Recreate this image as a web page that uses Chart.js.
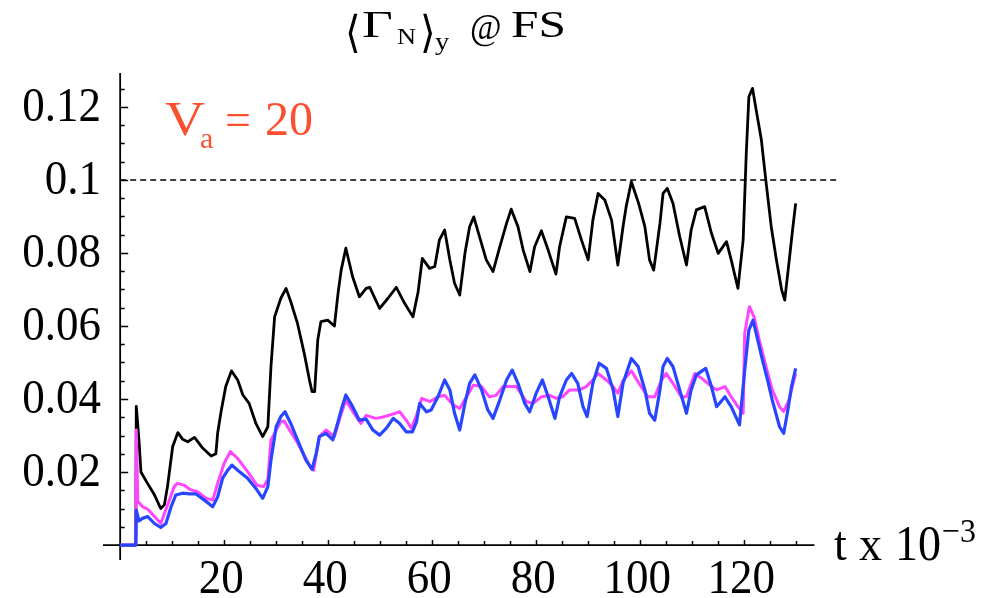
<!DOCTYPE html>
<html>
<head>
<meta charset="utf-8">
<script src="https://cdn.jsdelivr.net/npm/chart.js@4/dist/chart.umd.min.js"></script>
<style>
  html, body { margin: 0; padding: 0; background: #ffffff; }
  #wrap { width: 1007px; height: 598px; position: relative; }
  canvas { display: block; }
</style>
</head>
<body>
<div id="wrap"><canvas id="c" width="1007" height="598"></canvas></div>
<script>
// ---- data (t in units of 10^3) ----
const blackT = [0, 3.0, 3.1, 3.6, 4.0, 5.0, 6.5, 7.8, 8.5, 9.1,
  10.1, 11.1, 12.0, 13.0, 14.3, 15.9, 17.5, 18.4, 18.75, 19.4,
  20.3, 21.4, 22.6, 23.6, 24.8, 26.1, 27.4, 28.4, 29.0, 29.7,
  30.9, 31.9, 32.8, 34.1, 35.4, 36.4, 36.9, 37.4, 38.0, 38.6,
  39.9, 41.2, 41.9, 42.5, 43.4, 44.7, 46.0, 47.3, 48.0, 49.9,
  51.5, 53.1, 54.7, 56.3, 57.3, 58.1, 59.5, 60.5, 61.4, 62.4,
  63.4, 64.3, 65.3, 66.3, 67.2, 68.0, 69.1, 70.4, 71.7, 73.0,
  74.3, 75.2, 76.5, 77.5, 78.8, 79.7, 81.0, 82.3, 83.8, 84.5,
  85.8, 87.4, 88.7, 90.0, 90.9, 91.9, 93.2, 94.5, 95.7, 96.7,
  97.3, 98.3, 99.7, 100.9, 101.8, 102.6, 103.8, 104.4, 105.2, 106.3,
  107.6, 108.9, 109.8, 110.8, 112.4, 113.7, 115.0, 116.6, 117.5, 118.8,
  119.8, 120.4, 120.9, 121.6, 122.3, 123.3, 124.3, 125.2, 126.2, 127.2,
  127.8, 128.6, 129.3, 129.9];
const blackV = [0, 0, 0.038, 0.029, 0.020, 0.0175, 0.014, 0.010, 0.011, 0.016,
  0.027, 0.0308, 0.029, 0.0283, 0.0295, 0.0265, 0.0244, 0.025, 0.0307, 0.0365,
  0.0434, 0.0477, 0.0452, 0.0411, 0.0388, 0.0333, 0.0297, 0.0324, 0.0489, 0.0625,
  0.0676, 0.0703, 0.0667, 0.0607, 0.0525, 0.0452, 0.0420, 0.042, 0.0562, 0.0612,
  0.0616, 0.0600, 0.0690, 0.0753, 0.0813, 0.0735, 0.0680, 0.0703, 0.0706, 0.0648,
  0.0676, 0.0706, 0.0662, 0.0625, 0.0694, 0.0785, 0.0758, 0.0763, 0.0836, 0.0863,
  0.0781, 0.0717, 0.0685, 0.0799, 0.0872, 0.0899, 0.0845, 0.0781, 0.0749, 0.0817,
  0.0881, 0.0920, 0.0872, 0.0808, 0.0749, 0.0817, 0.0861, 0.0808, 0.0742, 0.0817,
  0.0899, 0.0895, 0.0836, 0.0781, 0.0890, 0.0963, 0.0945, 0.0890, 0.0767, 0.0872,
  0.0927, 0.0995, 0.0936, 0.0872, 0.0781, 0.0753, 0.0881, 0.0963, 0.0977, 0.0936,
  0.0845, 0.0767, 0.0863, 0.0918, 0.0927, 0.0854, 0.0799, 0.0831, 0.0781, 0.0703,
  0.0836, 0.1073, 0.1228, 0.1251, 0.1192, 0.1110, 0.0982, 0.0872, 0.0781, 0.0699,
  0.0671, 0.0772, 0.0863, 0.0936];

const magentaT = [0, 3.0, 3.1, 3.4, 4.3, 5.3, 6.6, 7.8, 9.0, 10.4,
  11.0, 12.3, 13.6, 14.9, 16.5, 17.8, 18.75, 20.0, 21.2, 22.6,
  24.5, 26.3, 27.6, 28.4, 29.0, 30.9, 31.5, 34.1, 36.7, 37.2,
  38.3, 39.6, 41.2, 42.3, 43.4, 45.0, 46.3, 47.3, 49.2, 50.4,
  51.8, 53.75, 55.0, 56.0, 57.0, 58.0, 59.6, 61.1, 62.4, 64.0,
  65.3, 66.6, 67.9, 69.5, 71.0, 72.3, 73.6, 74.9, 76.2, 78.1,
  79.4, 81.0, 82.6, 83.9, 85.1, 86.4, 88.3, 89.6, 90.9, 91.9,
  93.5, 94.8, 95.7, 96.7, 98.3, 99.9, 101.5, 102.8, 104.1, 105.0,
  106.3, 107.9, 108.9, 110.5, 111.8, 113.4, 114.7, 116.3, 117.5, 118.8,
  119.8, 120.1, 121.0, 121.9, 122.9, 124.2, 125.4, 126.8, 127.6, 128.6,
  129.9];
const magentaV = [0, 0, 0.0315, 0.012, 0.0105, 0.0098, 0.0078, 0.0059, 0.0105, 0.016,
  0.0169, 0.0164, 0.0151, 0.0146, 0.0128, 0.0123, 0.0169, 0.0224, 0.0256, 0.0237,
  0.0201, 0.0164, 0.016, 0.018, 0.0288, 0.0338, 0.034, 0.028, 0.0211, 0.0205,
  0.0297, 0.0315, 0.0297, 0.035, 0.0397, 0.036, 0.0333, 0.0355, 0.0347, 0.035,
  0.0356, 0.0365, 0.0342, 0.032, 0.0356, 0.0402, 0.0393, 0.0406, 0.041, 0.0384,
  0.0374, 0.0406, 0.0438, 0.0434, 0.0406, 0.041, 0.0434, 0.0434, 0.0434, 0.0393,
  0.0388, 0.0406, 0.041, 0.0402, 0.0406, 0.0425, 0.0425, 0.0434, 0.0452, 0.0470,
  0.0452, 0.0434, 0.0416, 0.045, 0.0477, 0.0440, 0.0406, 0.0406, 0.0452, 0.047,
  0.0443, 0.0406, 0.0406, 0.047, 0.0457, 0.0438, 0.0425, 0.0434, 0.0406, 0.0379,
  0.0361, 0.058, 0.0653, 0.0625, 0.0562, 0.0489, 0.0425, 0.0379, 0.0366, 0.0397,
  0.047];

const blueT = [0, 3.0, 3.1, 3.6, 4.3, 5.3, 6.6, 7.8, 8.8, 9.8,
  10.7, 12.0, 13.3, 14.6, 16.2, 17.8, 18.75, 19.7, 20.7, 21.5,
  22.6, 24.5, 26.1, 27.4, 28.4, 29.0, 30.0, 30.9, 31.7, 32.8,
  34.1, 35.7, 36.9, 37.7, 38.3, 39.6, 40.9, 41.8, 42.6, 43.4,
  44.7, 46.0, 47.3, 48.6, 49.9, 51.2, 52.5, 53.75, 55.0, 56.2,
  57.0, 57.6, 58.9, 59.8, 61.1, 62.4, 63.4, 64.3, 65.3, 66.3,
  67.2, 68.2, 69.5, 70.7, 71.7, 73.0, 74.3, 75.4, 76.5, 77.8,
  78.75, 80.0, 81.2, 82.3, 83.6, 84.5, 85.8, 86.8, 88.0, 89.0,
  89.8, 90.9, 92.1, 93.5, 94.8, 95.7, 96.7, 98.3, 99.6, 100.9,
  101.8, 102.8, 103.8, 104.4, 105.2, 106.3, 107.6, 108.9, 109.8, 110.8,
  112.6, 113.7, 114.7, 116.3, 117.5, 119.1, 120.1, 120.9, 121.7, 122.6,
  123.5, 124.5, 125.4, 126.8, 127.6, 128.4, 129.1, 129.9];
const blueV = [0, 0, 0.0096, 0.0066, 0.0073, 0.0078, 0.0059, 0.0048, 0.0059, 0.0105,
  0.0137, 0.0142, 0.014, 0.014, 0.0123, 0.0105, 0.0132, 0.0183, 0.0205, 0.0219,
  0.0205, 0.0183, 0.0155, 0.0128, 0.016, 0.0233, 0.0324, 0.0352, 0.0365, 0.0333,
  0.0288, 0.0233, 0.0207, 0.0251, 0.0297, 0.0306, 0.0288, 0.0333, 0.0375, 0.0411,
  0.0379, 0.0342, 0.0345, 0.0315, 0.0301, 0.032, 0.0347, 0.0333, 0.031, 0.031,
  0.0338, 0.0388, 0.0365, 0.037, 0.0406, 0.0452, 0.0425, 0.0361, 0.0315, 0.0388,
  0.0443, 0.0466, 0.0425, 0.037, 0.0347, 0.0397, 0.0452, 0.0479, 0.0443, 0.0388,
  0.0365, 0.0416, 0.0452, 0.0406, 0.0347, 0.0406, 0.0452, 0.047, 0.0443, 0.0379,
  0.0352, 0.0443, 0.0498, 0.0484, 0.0425, 0.0352, 0.0443, 0.0511, 0.0489, 0.0425,
  0.0361, 0.0342, 0.0425, 0.0489, 0.0511, 0.0489, 0.0425, 0.0361, 0.0425, 0.0466,
  0.0484, 0.0434, 0.0379, 0.0406, 0.0379, 0.0329, 0.0479, 0.0589, 0.0616, 0.0562,
  0.0507, 0.0452, 0.0397, 0.0324, 0.0306, 0.037, 0.0434, 0.0484];

const refLineT = [0, 138];
const refLineV = [0.1, 0.1];

const xTickValues = [20, 40, 60, 80, 100, 120];
const xTickLabels = ['20', '40', '60', '80', '100', '120'];
const yTickValues = [0.02, 0.04, 0.06, 0.08, 0.1, 0.12];
const yTickLabels = ['0.02', '0.04', '0.06', '0.08', '0.1', '0.12'];

// ---- helpers ----
function zip(ts, vs) { return ts.map((t, i) => ({ x: t, y: vs[i] })); }

const SERIF = '"Liberation Serif", "DejaVu Serif", "Times New Roman", serif';

function stretchedText(ctx, str, x, y, size, sx, sy, align) {
  ctx.save();
  ctx.font = size + 'px ' + SERIF;
  ctx.textAlign = align || 'left';
  ctx.textBaseline = 'alphabetic';
  ctx.translate(x, y);
  ctx.scale(sx, sy);
  ctx.fillText(str, 0, 0);
  ctx.restore();
}

const axesPlugin = {
  id: 'mmaAxes',
  beforeDatasetsDraw(chart) {
    const ctx = chart.ctx;
    const xs = chart.scales.x, ys = chart.scales.y;
    const ca = chart.chartArea;
    const x0 = xs.getPixelForValue(0);
    const y0 = ys.getPixelForValue(0);
    ctx.save();
    ctx.strokeStyle = '#000';
    ctx.lineWidth = 1.8;
    // axes lines
    ctx.beginPath();
    ctx.moveTo(ca.left, y0); ctx.lineTo(xs.getPixelForValue(133.5), y0);
    ctx.moveTo(x0, ca.bottom); ctx.lineTo(x0, ca.top);
    ctx.stroke();
    // x ticks (every 5, pointing up)
    ctx.lineWidth = 1.5;
    ctx.beginPath();
    for (let t = 5; t <= 130; t += 5) {
      const px = Math.round(xs.getPixelForValue(t)) + 0.5;
      const len = (t % 20 === 0) ? 5 : 4;
      ctx.moveTo(px, y0); ctx.lineTo(px, y0 - len);
    }
    // y ticks (every 0.005, pointing right)
    for (let k = 1; k <= 25; k++) {
      const v = k * 0.005;
      const py = Math.round(ys.getPixelForValue(v)) + 0.5;
      const len = (k % 4 === 0) ? 8 : 4.5;
      ctx.moveTo(x0, py); ctx.lineTo(x0 + len, py);
    }
    ctx.stroke();
    ctx.restore();
  },
  afterDraw(chart) {
    const ctx = chart.ctx;
    const xs = chart.scales.x, ys = chart.scales.y;
    ctx.save();
    ctx.fillStyle = '#000';
    // y tick labels
    yTickValues.forEach((v, i) => {
      const py = ys.getPixelForValue(v);
      stretchedText(ctx, yTickLabels[i], 101, py + 14, 45, 1, 1.08, 'right');
    });
    // x tick labels
    xTickValues.forEach((t, i) => {
      const px = xs.getPixelForValue(t);
      stretchedText(ctx, xTickLabels[i], px - 3, 593, 45, 1, 1.08, 'center');
    });
    // axis label t x 10^-3
    stretchedText(ctx, 't', 834, 560, 46, 1, 1.05, 'left');
    stretchedText(ctx, 'x', 859, 560, 46, 1, 1.05, 'left');
    stretchedText(ctx, '10', 895, 560, 46, 1, 1.1, 'left');
    stretchedText(ctx, '\u22123', 942, 542, 32, 1, 1.05, 'left');

    // title <Gamma_N>_y @ FS
    stretchedText(ctx, '\u27E8', 345, 47, 40, 1, 1.1, 'left');
    stretchedText(ctx, '\u0393', 362, 37, 38, 1.4, 1.0, 'left');
    stretchedText(ctx, 'N', 397, 44, 24, 1.1, 1.0, 'left');
    stretchedText(ctx, '\u27E9', 420, 47, 40, 1, 1.1, 'left');
    stretchedText(ctx, 'y', 435, 50, 26, 1.1, 1.0, 'left');
    stretchedText(ctx, '@', 470, 39, 36, 0.95, 1.0, 'left');
    stretchedText(ctx, 'FS', 511, 37, 38, 1.3, 1.0, 'left');

    // annotation V_a = 20
    ctx.fillStyle = '#fb5030';
    stretchedText(ctx, 'V', 165, 135, 48, 1.15, 1.0, 'left');
    stretchedText(ctx, 'a', 200, 148, 30, 1.0, 1.0, 'left');
    stretchedText(ctx, '=', 225, 135, 46, 1.0, 1.0, 'left');
    stretchedText(ctx, '20', 265, 135, 48, 1.0, 1.0, 'left');
    ctx.restore();
  }
};

const chart = new Chart(document.getElementById('c').getContext('2d'), {
  type: 'line',
  data: {
    datasets: [
      { label: 'blue', data: zip(blueT, blueV), borderColor: '#2846ff', borderWidth: 3.2, order: 0 },
      { label: 'magenta', data: zip(magentaT, magentaV), borderColor: '#ff45ff', borderWidth: 3.0, order: 1 },
      { label: 'black', data: zip(blackT, blackV), borderColor: '#000000', borderWidth: 2.8, order: 2 },
      { label: 'ref', data: zip(refLineT, refLineV), borderColor: '#000000', borderWidth: 1.5, borderDash: [6, 4], order: 3 }
    ]
  },
  options: {
    responsive: false,
    animation: false,
    devicePixelRatio: 1,
    layout: { padding: { left: 103, right: 166.6, top: 73, bottom: 38 } },
    scales: {
      x: { type: 'linear', min: -3.3, max: 138.5, display: false },
      y: { type: 'linear', min: -0.0041, max: 0.1293, display: false }
    },
    elements: {
      point: { radius: 0 },
      line: { tension: 0, fill: false, borderJoinStyle: 'round', borderCapStyle: 'butt' }
    },
    plugins: {
      legend: { display: false },
      tooltip: { enabled: false },
      title: { display: false }
    }
  },
  plugins: [axesPlugin]
});
</script>
</body>
</html>
